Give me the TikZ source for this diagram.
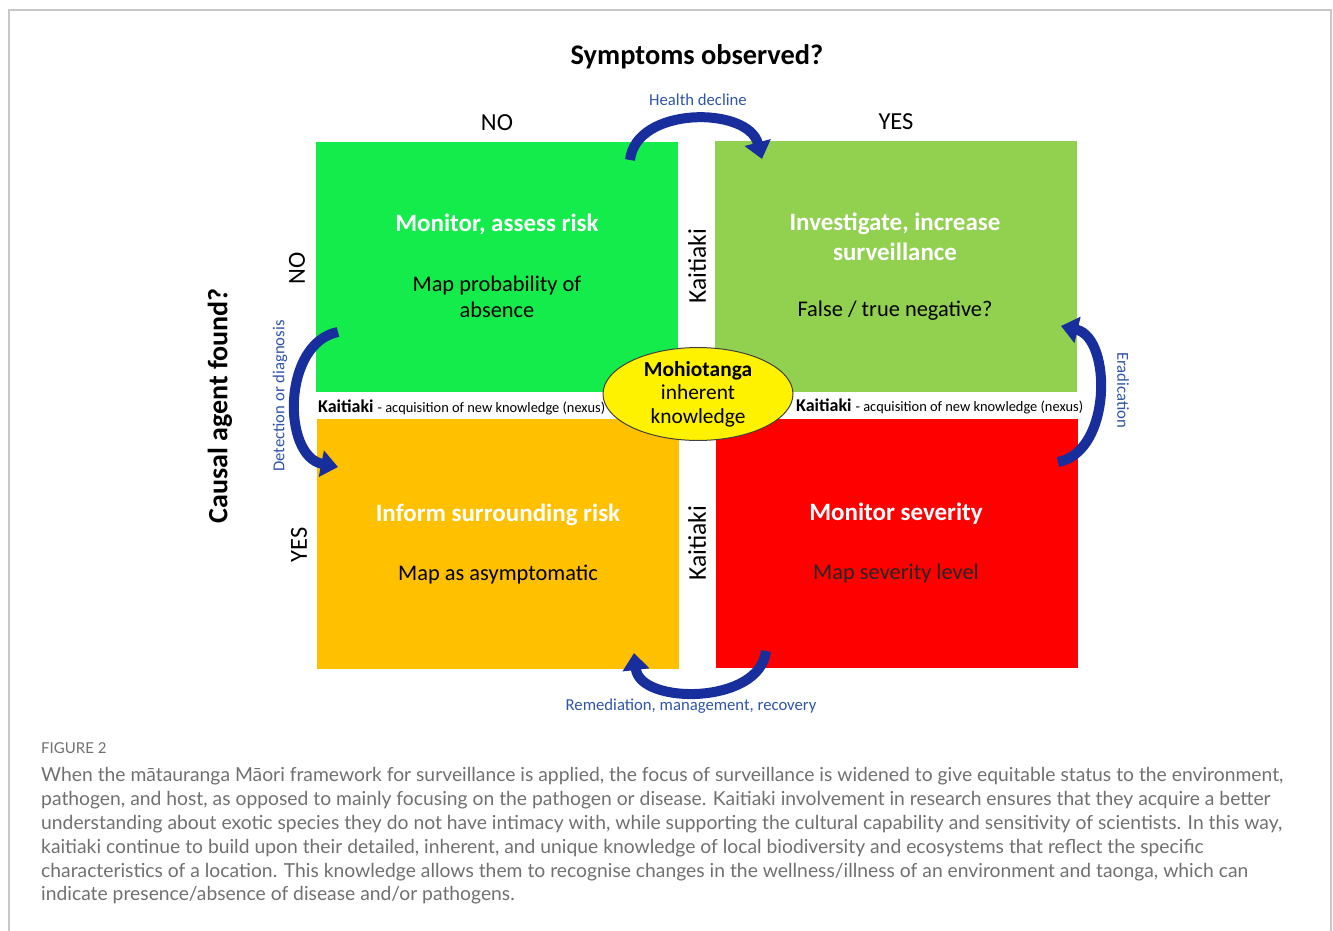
\documentclass[tikz,border=0pt]{standalone}
\usepackage{fontspec}
\setmainfont{Carlito}
\newfontfamily\capfont{Lato}
\usetikzlibrary{arrows.meta,shapes.geometric}
\definecolor{brightgreen}{RGB}{20,236,76}
\definecolor{leafgreen}{RGB}{146,208,80}
\definecolor{amber}{RGB}{255,192,0}
\definecolor{alarmred}{RGB}{255,0,0}
\definecolor{navyarrow}{RGB}{24,46,156}
\definecolor{labelblue}{RGB}{47,84,168}
\definecolor{captiongray}{RGB}{112,112,112}
\tikzset{
  quad/.style={minimum width=362pt, minimum height=250pt, inner sep=0pt},
  headtext/.style={font=\fontsize{25}{30}\selectfont\bfseries, text=white, align=center},
  bodytext/.style={font=\fontsize{22.4}{26}\selectfont, align=center},
  axistext/.style={font=\fontsize{24.5}{28}\selectfont},
  gaptext/.style={font=\fontsize{25.5}{28}\selectfont, rotate=90},
  flowlabel/.style={font=\fontsize{16.7}{20}\selectfont, text=labelblue},
  flowarrow/.style={draw=navyarrow, line width=10pt, -{Triangle[width=26pt,length=17pt]}},
  captionline/.style={font=\capfont\fontsize{19.3}{22}\selectfont, text=captiongray, anchor=base west, inner sep=0pt}
}

\begin{document}
\begin{tikzpicture}[x=1pt,y=-1pt]
  %%%%% START %%%%%
  \useasboundingbox (0,0) rectangle (1333,931);
  \draw[black!22, line width=1.5pt] (9,931) -- (9,10) -- (1331,10) -- (1331,931);

  % axis titles
  \node[font=\fontsize{28.4}{32}\selectfont\bfseries] (symptoms) at (697,57) {Symptoms observed?};
  \node[font=\fontsize{28}{32}\selectfont\bfseries, rotate=90] (causal) at (220,406) {Causal agent found?};
  \node[axistext] (topno) at (497,123) {NO};
  \node[axistext] (topyes) at (896,122) {YES};
  \node[axistext, rotate=90] (sideno) at (297,268) {NO};
  \node[axistext, rotate=90] (sideyes) at (299,545) {YES};

  % quadrants
  \node[quad, fill=brightgreen] (monitor) at (497,267) {};
  \node[quad, fill=leafgreen] (investigate) at (895.5,266.5) {};
  \node[quad, fill=amber] (inform) at (498,544) {};
  \node[quad, fill=alarmred, minimum height=249pt] (severity) at (897,543.5) {};

  \node[headtext] (monitorhead) at (497,224) {Monitor, assess risk};
  \node[bodytext] (monitorbody) at (497,297) {Map probability of\\absence};
  \node[headtext] (investhead) at (895,237) {Investigate, increase\\surveillance};
  \node[bodytext] (investbody) at (895,311) {False / true negative?};
  \node[headtext] (informhead) at (498,515) {Inform surrounding risk};
  \node[bodytext] (informbody) at (498,575) {Map as asymptomatic};
  \node[headtext] (severityhead) at (896,514) {Monitor severity};
  \node[bodytext, text=black!85] (severitybody) at (896,574) {Map severity level};

  % kaitiaki in the gaps
  \node[gaptext] (kaitop) at (697,266) {Kaitiaki};
  \node[gaptext] (kaibottom) at (697,543) {Kaitiaki};
  \node[anchor=west, inner sep=0pt] (kaileft) at (318,407)
    {\fontsize{18}{20}\selectfont\bfseries Kaitiaki \fontsize{14.4}{16}\mdseries\selectfont - acquisition of new knowledge (nexus)};
  \node[anchor=west, inner sep=0pt] (kairight) at (796,406)
    {\fontsize{18}{20}\selectfont\bfseries Kaitiaki \fontsize{14.4}{16}\mdseries\selectfont - acquisition of new knowledge (nexus)};

  % centre
  \node[ellipse, draw=black!75, line width=1pt, fill=yellow, minimum width=190pt, minimum height=90pt,
        inner sep=0pt, align=center, font=\fontsize{21.4}{23.5}\selectfont] (mohiotanga) at (698,394)
    {\textbf{Mohiotanga}\\inherent\\knowledge};

  % transitions
  \coordinate (hdstart) at (630,160);
  \coordinate (hdend) at (762,159);
  \draw[flowarrow] (hdstart) .. controls (636,106) and (748,106) .. (hdend);
  \node[flowlabel] (healthdecline) at (698,100) {Health decline};

  \coordinate (ddstart) at (338,332);
  \coordinate (ddend) at (338,467);
  \draw[flowarrow] (ddstart) .. controls (282,343) and (282,456) .. (ddend);
  \node[flowlabel, rotate=90] (detection) at (280,396) {Detection or diagnosis};

  \coordinate (erstart) at (1058,462);
  \coordinate (erend) at (1061,326);
  \draw[flowarrow] (erstart) .. controls (1112,452) and (1112,338) .. (erend);
  \node[flowlabel, rotate=-90] (eradication) at (1123,390) {Eradication};

  \coordinate (rmstart) at (766,651);
  \coordinate (rmend) at (634,653);
  \draw[flowarrow] (rmstart) .. controls (760,705) and (640,705) .. (rmend);
  \node[flowlabel] (remediation) at (691,706) {Remediation, management, recovery};

  % caption
  \node[captionline, font=\capfont\fontsize{15}{18}\selectfont] (figlabel) at (41,753) {FIGURE 2};
  \node[captionline] (cap1) at (41,781) {When the mātauranga Māori framework for surveillance is applied, the focus of surveillance is widened to give equitable status to the environment,};
  \node[captionline] (cap2) at (41,805) {pathogen, and host, as opposed to mainly focusing on the pathogen or disease. Kaitiaki involvement in research ensures that they acquire a better};
  \node[captionline] (cap3) at (41,829) {understanding about exotic species they do not have intimacy with, while supporting the cultural capability and sensitivity of scientists. In this way,};
  \node[captionline] (cap4) at (41,853) {kaitiaki continue to build upon their detailed, inherent, and unique knowledge of local biodiversity and ecosystems that reflect the specific};
  \node[captionline] (cap5) at (41,877) {characteristics of a location. This knowledge allows them to recognise changes in the wellness/illness of an environment and taonga, which can};
  \node[captionline] (cap6) at (41,900) {indicate presence/absence of disease and/or pathogens.};
  %%%%% END %%%%%
\end{tikzpicture}
\end{document}
